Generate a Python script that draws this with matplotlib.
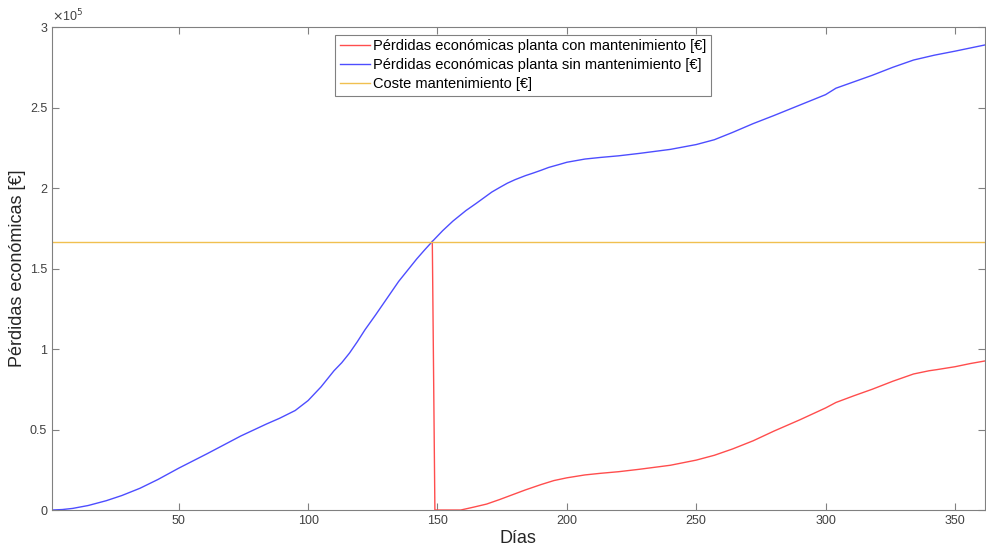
import matplotlib
matplotlib.use("Agg")
import matplotlib.pyplot as plt
from matplotlib.ticker import FuncFormatter

plt.rcParams['font.family'] = ['Liberation Sans', 'DejaVu Sans']

# datos (valores en euros x 1e5)
dias_sin = [1, 5, 9, 15, 22, 28, 35, 42, 50, 61, 74, 84, 89, 95, 100, 105, 110, 113,
            116, 119, 122, 126, 129, 132, 135, 139, 142, 145, 148, 152, 156, 161, 165,
            168, 171, 174, 177, 180, 184, 187, 190, 193, 197, 200, 207, 213, 220, 228,
            240, 250, 257, 264, 272, 280, 290, 300, 304, 311, 318, 326, 334, 342, 350,
            356, 362]
perdidas_sin = [0, 0.003, 0.01, 0.028, 0.058, 0.09, 0.135, 0.19, 0.26, 0.35, 0.46,
                0.535, 0.57, 0.618, 0.68, 0.765, 0.865, 0.915, 0.975, 1.045, 1.12,
                1.21, 1.28, 1.35, 1.42, 1.5, 1.56, 1.615, 1.668, 1.735, 1.795, 1.86,
                1.905, 1.94, 1.975, 2.003, 2.03, 2.052, 2.077, 2.093, 2.11, 2.128,
                2.146, 2.16, 2.18, 2.19, 2.20, 2.215, 2.24, 2.27, 2.30, 2.345, 2.40,
                2.45, 2.515, 2.58, 2.62, 2.66, 2.70, 2.75, 2.795, 2.825, 2.85, 2.87,
                2.89]

dias_con = [148, 149, 159, 164, 169, 174, 178, 184, 190, 195, 200, 207, 213, 220,
            228, 240, 250, 257, 264, 272, 280, 290, 300, 304, 311, 318, 326, 334,
            340, 343, 350, 356, 362]
perdidas_con = [1.668, 0, 0, 0.018, 0.037, 0.065, 0.089, 0.125, 0.158, 0.183, 0.2,
                0.218, 0.228, 0.238, 0.253, 0.278, 0.31, 0.34, 0.379, 0.43, 0.49,
                0.56, 0.634, 0.668, 0.71, 0.75, 0.80, 0.845, 0.865, 0.872, 0.89,
                0.91, 0.927]

coste_mantenimiento = 1.667

perdidas_sin = [v * 1e5 for v in perdidas_sin]
perdidas_con = [v * 1e5 for v in perdidas_con]
coste_mantenimiento = coste_mantenimiento * 1e5

fig = plt.figure(figsize=(9.86, 5.47), dpi=100)
ax = fig.add_axes([0.0527, 0.0676, 0.946, 0.883])

ax.plot(dias_con, perdidas_con, color='#ff4d4d', lw=1.0,
        label='Pérdidas económicas planta con mantenimiento [€]')
ax.plot(dias_sin, perdidas_sin, color='#4d4dff', lw=1.0,
        label='Pérdidas económicas planta sin mantenimiento [€]')
ax.axhline(coste_mantenimiento, color='#f0c050', lw=1.0,
           label='Coste mantenimiento [€]')

ax.set_xlim(1, 361.5)
ax.set_ylim(0, 3e5)
ax.set_xticks([50, 100, 150, 200, 250, 300, 350])
ax.set_yticks([0, 0.5e5, 1e5, 1.5e5, 2e5, 2.5e5, 3e5])
ax.yaxis.set_major_formatter(FuncFormatter(lambda v, p: f"{v / 1e5:g}"))

for s in ax.spines.values():
    s.set_color('#808080')
    s.set_linewidth(0.8)
ax.tick_params(direction='in', top=True, right=True, length=5, width=0.8,
               color='#808080', labelcolor='#404040', labelsize=9)

ax.text(0.0, 1.005, r'$\times$10$^5$', transform=ax.transAxes, fontsize=9,
        color='#404040', ha='left', va='bottom')

ax.set_xlabel('Días', fontsize=13, color='#262626', labelpad=2)
ax.set_ylabel('Pérdidas económicas [€]', fontsize=13, color='#262626', labelpad=3)

leg = ax.legend(loc='upper center', bbox_to_anchor=(0.505, 0.984), fontsize=10.5,
                fancybox=False, framealpha=1, edgecolor='#808080', borderaxespad=0,
                handlelength=2.1, handletextpad=0.2, labelspacing=0.35,
                borderpad=0.3)
leg.get_frame().set_linewidth(0.8)

fig.savefig('out.png', dpi=100)
